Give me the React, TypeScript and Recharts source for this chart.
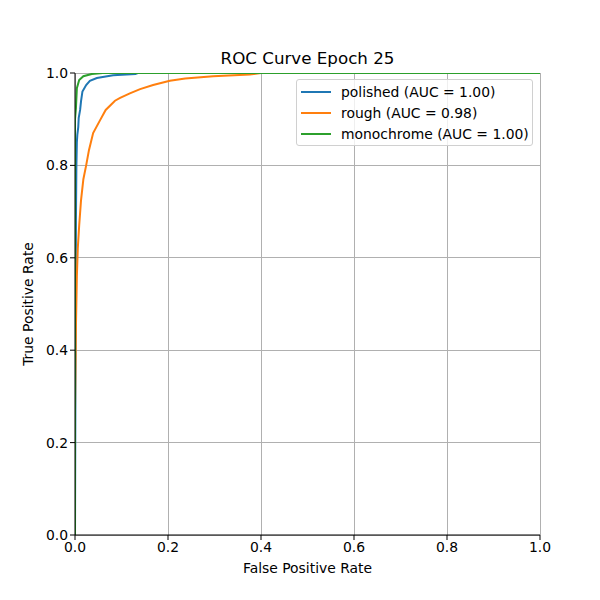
import { CartesianGrid, Label, Line, LineChart, XAxis, YAxis } from "recharts"

const FONT = "DejaVu Sans, Liberation Sans, sans-serif"

const ticks = [0, 0.2, 0.4, 0.6, 0.8, 1.0]

// polished
const polishedFpr = [0, 0.002, 0.003, 0.004, 0.005, 0.007, 0.008, 0.011, 0.013, 0.016, 0.024, 0.032, 0.047, 0.082, 0.13, 0.135, 1]
const polishedTpr = [0, 0.68, 0.8, 0.85, 0.866, 0.883, 0.903, 0.92, 0.939, 0.96, 0.974, 0.983, 0.989, 0.995, 0.998, 1, 1]

// rough
const roughFpr = [0, 0, 0.002, 0.004, 0.006, 0.009, 0.013, 0.018, 0.024, 0.03, 0.039, 0.054, 0.066, 0.086, 0.097, 0.118, 0.14, 0.168, 0.204, 0.237, 0.297, 0.376, 0.4, 1]
const roughTpr = [0, 0.27, 0.45, 0.56, 0.62, 0.67, 0.725, 0.77, 0.8, 0.833, 0.87, 0.898, 0.92, 0.94, 0.946, 0.956, 0.965, 0.974, 0.983, 0.988, 0.993, 0.997, 1, 1]

// monochrome
const monoFpr = [0, 0, 0.002, 0.004, 0.009, 0.018, 0.036, 0.06, 1]
const monoTpr = [0, 0.9, 0.924, 0.967, 0.985, 0.993, 0.998, 1, 1]

const series = [
    { name: "polished (AUC = 1.00)", color: "#1f77b4", fpr: polishedFpr, tpr: polishedTpr },
    { name: "rough (AUC = 0.98)", color: "#ff7f0e", fpr: roughFpr, tpr: roughTpr },
    { name: "monochrome (AUC = 1.00)", color: "#2ca02c", fpr: monoFpr, tpr: monoTpr },
]

const title = "ROC Curve Epoch 25"

const toPoints = (fpr: number[], tpr: number[]) => fpr.map((x, i) => ({ fpr: x, tpr: tpr[i] }))

const tickStyle = { fontFamily: FONT, fontSize: 13.9, fill: "#000" }

function LegendBox() {
    return (
        <div
            style={{
                position: "absolute",
                left: 296,
                top: 79,
                width: 237,
                height: 67,
                fontFamily: FONT,
                fontSize: 13.9,
                color: "#000",
                border: "1px solid #d0d0d0",
                borderRadius: 3,
                background: "rgba(255,255,255,0.8)",
                padding: "1px 0 0 4px",
                boxSizing: "border-box",
            }}
        >
            {series.map((s) => (
                <div key={s.name} style={{ display: "flex", alignItems: "center", height: 21 }}>
                    <div style={{ width: 30, height: 2, flexShrink: 0, background: s.color, marginRight: 10 }} />
                    <span style={{ whiteSpace: "nowrap" }}>{s.name}</span>
                </div>
            ))}
        </div>
    )
}

export default function App() {
    return (
        <div style={{ position: "absolute", left: 0, top: 0, width: 600, height: 600, background: "#fff" }}>
            <LineChart width={600} height={600} margin={{ top: 73, right: 60, bottom: 35, left: 35 }}>
                <CartesianGrid
                    stroke="#b0b0b0"
                    strokeWidth={1}
                    shapeRendering="crispEdges"
                    horizontalValues={ticks}
                    verticalValues={ticks}
                />
                {series.map((s) => (
                    <Line
                        key={s.name}
                        data={toPoints(s.fpr, s.tpr)}
                        dataKey="tpr"
                        name={s.name}
                        type="linear"
                        stroke={s.color}
                        strokeWidth={2}
                        dot={false}
                        activeDot={false}
                        isAnimationActive={false}
                    />
                ))}
                <XAxis
                    dataKey="fpr"
                    type="number"
                    domain={[0, 1]}
                    ticks={ticks}
                    tickFormatter={(v) => v.toFixed(1)}
                    allowDataOverflow
                    height={30}
                    stroke="#000"
                    tickSize={5}
                    tick={tickStyle}
                >
                    <Label value="False Positive Rate" position="bottom" offset={-2} style={{ fontFamily: FONT, fontSize: 13.9, fill: "#000" }} />
                </XAxis>
                <YAxis
                    type="number"
                    domain={[0, 1]}
                    ticks={ticks}
                    tickFormatter={(v) => v.toFixed(1)}
                    allowDataOverflow
                    width={40}
                    stroke="#000"
                    tickSize={5}
                    tick={tickStyle}
                >
                    <Label
                        value="True Positive Rate"
                        angle={-90}
                        position="insideLeft"
                        offset={-7}
                        style={{ fontFamily: FONT, fontSize: 13.9, fill: "#000", textAnchor: "middle" }}
                    />
                </YAxis>
                <XAxis xAxisId="top" orientation="top" type="number" domain={[0, 1]} height={0} tick={false} tickLine={false} stroke="#000" />
                <YAxis yAxisId="right" orientation="right" type="number" domain={[0, 1]} width={0} tick={false} tickLine={false} stroke="#000" />
            </LineChart>
            <svg width={600} height={73} style={{ position: "absolute", left: 0, top: 0 }}>
                <text x={307.5} y={64} textAnchor="middle" fontFamily={FONT} fontSize={16.7} fill="#000">
                    {title}
                </text>
            </svg>
            <LegendBox />
        </div>
    )
}
